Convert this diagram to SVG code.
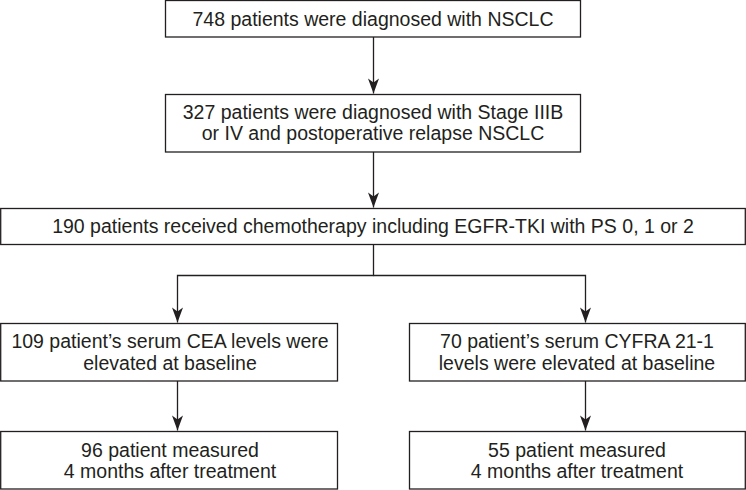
<svg xmlns="http://www.w3.org/2000/svg" width="746" height="490" viewBox="0 0 746 490">
  <style>
    .box { fill: #ffffff; stroke: #231f20; stroke-width: 1.3; }
    .lbl { font-family: "Liberation Sans", Arial, Helvetica, sans-serif; font-size: 19.5px; fill: #231f20; text-anchor: middle; }
    .conn { fill: none; stroke: #231f20; stroke-width: 1.3; }
  </style>
  <defs>
    <marker id="arrow" markerUnits="userSpaceOnUse" viewBox="-16 -6 17 12" markerWidth="17" markerHeight="12" refX="0" refY="0" orient="auto">
      <path d="M0,0 L-15,-5.5 L-11,0 L-15,5.5 Z" fill="#231f20"/>
    </marker>
  </defs>
  <rect width="746" height="490" fill="#ffffff"/>

  <g id="connectors">
    <line class="conn" x1="373.5" y1="37" x2="373.5" y2="93.5" marker-end="url(#arrow)"/>
    <line class="conn" x1="373.5" y1="152" x2="373.5" y2="207.5" marker-end="url(#arrow)"/>
    <polyline class="conn" points="373.5,245 373.5,275.5 177.5,275.5 177.5,322.5" marker-end="url(#arrow)"/>
    <polyline class="conn" points="373.5,275.5 585.5,275.5 585.5,322.5" marker-end="url(#arrow)"/>
    <line class="conn" x1="177.5" y1="381" x2="177.5" y2="430.5" marker-end="url(#arrow)"/>
    <line class="conn" x1="585.5" y1="381" x2="585.5" y2="430.5" marker-end="url(#arrow)"/>
  </g>

  <g id="n1">
    <rect class="box" x="165.5" y="0.5" width="415" height="36.5"/>
    <text class="lbl" x="373" y="26">748 patients were diagnosed with NSCLC</text>
  </g>
  <g id="n2">
    <rect class="box" x="165.5" y="94.5" width="415" height="57.5"/>
    <text class="lbl" x="373" y="119">327 patients were diagnosed with Stage IIIB</text>
    <text class="lbl" x="373" y="140">or IV and postoperative relapse NSCLC</text>
  </g>
  <g id="n3">
    <rect class="box" x="0.7" y="208.5" width="744.6" height="36"/>
    <text class="lbl" x="373" y="233">190 patients received chemotherapy including EGFR-TKI with PS 0, 1 or 2</text>
  </g>
  <g id="n4">
    <rect class="box" x="0.7" y="323.5" width="336.8" height="57.5"/>
    <text class="lbl" x="170" y="348">109 patient’s serum CEA levels were</text>
    <text class="lbl" x="170" y="370">elevated at baseline</text>
  </g>
  <g id="n5">
    <rect class="box" x="409.5" y="323.5" width="335.8" height="57.5"/>
    <text class="lbl" x="577" y="348">70 patient’s serum CYFRA 21-1</text>
    <text class="lbl" x="577" y="370">levels were elevated at baseline</text>
  </g>
  <g id="n6">
    <rect class="box" x="0.7" y="431.5" width="336.8" height="57.5"/>
    <text class="lbl" x="170" y="457">96 patient measured</text>
    <text class="lbl" x="170" y="478">4 months after treatment</text>
  </g>
  <g id="n7">
    <rect class="box" x="409.5" y="431.5" width="335.8" height="57.5"/>
    <text class="lbl" x="577" y="457">55 patient measured</text>
    <text class="lbl" x="577" y="478">4 months after treatment</text>
  </g>
</svg>
